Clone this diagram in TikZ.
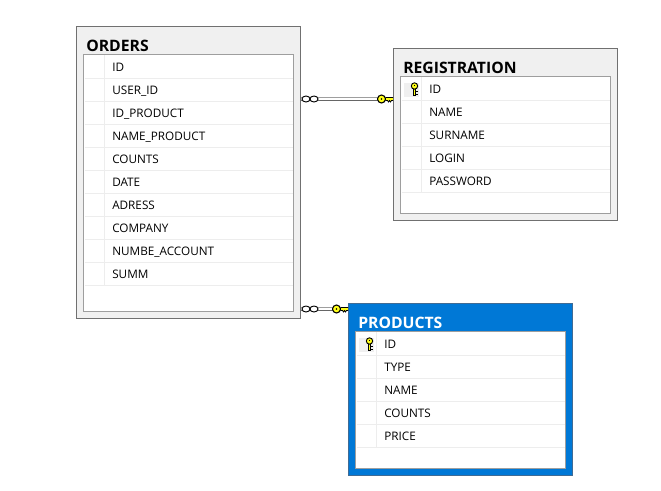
\documentclass[tikz,border=0pt]{standalone}
\usepackage{fontspec}
\setmainfont{Open Sans}
\usetikzlibrary{
  arrows.meta,
  positioning,
  calc
}
\usepackage{xcolor}
\definecolor{frameGray}{rgb}{0.44,0.44,0.44}
\definecolor{paneGray}{rgb}{0.94,0.94,0.94}
\definecolor{rowGray}{rgb}{0.93,0.93,0.93}
\definecolor{innerGray}{rgb}{0.62,0.62,0.62}
\definecolor{selectBlue}{rgb}{0,0.47,0.84}
\definecolor{selectEdge}{rgb}{0.25,0.42,0.58}
\definecolor{keyYellow}{rgb}{1,1,0.1}
\tikzset{
  tablebox/.style 2 args={
    draw=frameGray,
    fill=paneGray,
    line width=0.75pt,
    inner sep=0pt,
    minimum width=#1*0.75pt,
    minimum height=#2*0.75pt
  },
  tablebody/.style 2 args={
    draw=innerGray,
    fill=white,
    line width=0.75pt,
    inner sep=0pt,
    minimum width=#1*0.75pt,
    minimum height=#2*0.75pt
  },
  tabletitle/.style={
    anchor=base west,
    inner sep=0pt,
    font=\fontsize{11.8pt}{13pt}\selectfont\bfseries
  },
  fieldname/.style={
    anchor=west,
    inner sep=0pt,
    text height=7pt,
    text depth=0pt,
    font=\fontsize{8.8pt}{10pt}\selectfont
  },
  rowline/.style={draw=rowGray, line width=0.75pt},
  linkup/.style={draw=innerGray, line width=1pt},
  linkdown/.style={draw=black!60, line width=1pt},
  pics/manyend/.style={
    code={
      \draw[line width=0.7pt, fill=white] (-4,0) circle[x radius=4, y radius=3];
      \draw[line width=0.7pt, fill=white] (4,0) circle[x radius=4, y radius=3];
    }
  },
  pics/keyicon/.style={
    code={
      \fill[keyYellow] (1,-1.5) rectangle (8.5,1.5);
      \draw[line width=0.6pt] (1,-1.5) -- (8.5,-1.5) (1,1.5) -- (3,1.5) -- (4,3) -- (5,1.5) -- (6,3) -- (7,1.5) -- (8.5,1.5);
      \draw[line width=0.8pt, fill=keyYellow] (-3,0) circle[radius=4];
      \fill (-3,0) circle[radius=0.8];
    }
  },
  pics/pkicon/.style={
    code={
      \fill[paneGray] (-10,-6) rectangle (5,8);
      \draw[line width=0.7pt, fill=keyYellow] (-0.7,0) rectangle (1.7,6.5);
      \draw[line width=0.7pt] (1.7,3) -- (3.5,3) (1.7,5.5) -- (3.5,5.5);
      \draw[line width=0.7pt, fill=keyYellow] (0.5,-2.5) circle[radius=3.2];
      \fill (0.5,-3) circle[radius=0.7];
    }
  }
}
\begin{document}
\begin{tikzpicture}[x=0.75pt,y=-0.75pt]
  \useasboundingbox (0,0) rectangle (661,490);

  % orders
  \node[tablebox={224}{292}] (orders) at (188.5,172.5) {};
  \node[tablebody={210}{257}] (ordersBody) at (188.5,182.5) {};
  \node[tabletitle] (ordersTitle) at (86,51) {ORDERS};
  \foreach \i/\name in {0/ID, 1/USER\_ID, 2/ID\_PRODUCT, 3/NAME\_PRODUCT, 4/COUNTS,
    5/DATE, 6/ADRESS, 7/COMPANY, 8/NUMBE\_ACCOUNT, 9/SUMM}{
    \node[fieldname] (orders\i) at (112,66.7+23*\i) {\name};
    \draw[rowline] (84.5,78+23*\i) -- (293,78+23*\i);
  }
  \draw[rowline] (104.5,55) -- (104.5,285);

  % registration
  \node[tablebox={224}{172}] (registration) at (505.5,134.5) {};
  \node[tablebody={210}{137}] (registrationBody) at (505.5,144.5) {};
  \node[tabletitle] (registrationTitle) at (403,73) {REGISTRATION};
  \foreach \i/\name in {0/ID, 1/NAME, 2/SURNAME, 3/LOGIN, 4/PASSWORD}{
    \node[fieldname] (registration\i) at (429,88.7+23*\i) {\name};
    \draw[rowline] (401.5,100+23*\i) -- (610,100+23*\i);
  }
  \draw[rowline] (421.5,77) -- (421.5,192);
  \pic at (414,88.5) {pkicon};

  % products
  \node[tablebox={224}{172}, draw=selectEdge, fill=selectBlue] (products) at (460.5,389.5) {};
  \node[tablebody={210}{137}] (productsBody) at (460.5,399.5) {};
  \node[tabletitle, text=white] (productsTitle) at (358,328) {PRODUCTS};
  \foreach \i/\name in {0/ID, 1/TYPE, 2/NAME, 3/COUNTS, 4/PRICE}{
    \node[fieldname] (products\i) at (384,343.7+23*\i) {\name};
    \draw[rowline] (356.5,355+23*\i) -- (565,355+23*\i);
  }
  \draw[rowline] (376.5,332) -- (376.5,447);
  \pic at (369,343.5) {pkicon};

  % links
  \coordinate (linkA) at (0,97.5);
  \coordinate (linkB) at (0,100.5);
  \coordinate (linkC) at (0,307.5);
  \coordinate (linkD) at (0,310.5);
  \draw[linkup] (orders.east |- linkA) -- (registration.west |- linkA);
  \draw[linkdown] (orders.east |- linkB) -- (registration.west |- linkB);
  \pic at ($(orders.east |- 0,99)+(9,0)$) {manyend};
  \pic at ($(registration.west |- 0,99)+(-8.5,0)$) {keyicon};
  \draw[linkup] (orders.east |- linkC) -- (products.west |- linkC);
  \draw[linkdown] (orders.east |- linkD) -- (products.west |- linkD);
  \pic at ($(orders.east |- 0,309)+(9,0)$) {manyend};
  \pic at ($(products.west |- 0,309)+(-8.5,0)$) {keyicon};
\end{tikzpicture}
\end{document}
